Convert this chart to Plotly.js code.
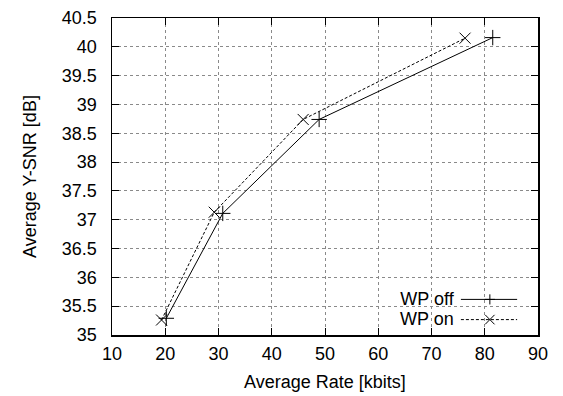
<!DOCTYPE html>
<html>
<head>
<meta charset="utf-8">
<script src="https://cdn.plot.ly/plotly-3.0.1.min.js"></script>
<style>html,body{margin:0;padding:0;background:#fff;}#chart{width:563px;height:396px;}</style>
</head>
<body>
<div id="chart"></div>
<script>
const rateOff = [20.2, 30.8, 48.9, 81.5];
const snrOff = [35.29, 37.11, 38.74, 40.16];
const rateOn = [19.3, 29.2, 45.9, 76.3];
const snrOn = [35.26, 37.13, 38.74, 40.15];
const seriesNames = ["WP off", "WP on"];
const xTicks = [10, 20, 30, 40, 50, 60, 70, 80, 90];
const yTicks = [35, 35.5, 36, 36.5, 37, 37.5, 38, 38.5, 39, 39.5, 40, 40.5];

const FONT = "Liberation Sans, Arial, Helvetica, sans-serif";
const FS = 18;

const traces = [
  {x: rateOff, y: snrOff, name: seriesNames[0], mode: "lines+markers",
   line: {color: "#000", width: 1},
   marker: {symbol: "cross-thin-open", size: 11, color: "#000", line: {color: "#000", width: 1}}},
  {x: rateOn, y: snrOn, name: seriesNames[1], mode: "lines+markers",
   line: {color: "#000", width: 1, dash: "3px,2px"},
   marker: {symbol: "x-thin-open", size: 11, color: "#000", line: {color: "#000", width: 1}}}
];

const axisCommon = {
  showline: true, linecolor: "#000", linewidth: 1.5, mirror: "ticks",
  ticks: "inside", ticklen: 7, tickcolor: "#000", tickwidth: 1,
  showgrid: true, gridcolor: "#8a8a8a", gridwidth: 1, griddash: "dot",
  zeroline: false, tickfont: {family: FONT, size: FS, color: "#000"}
};

const legendText = seriesNames.map(s => '<span style="font-size:' + FS + 'px">' + s + '</span>').join('<br>');

const yOff = 0.1123, yOn = 0.0486;

const layout = {
  width: 563, height: 396,
  margin: {l: 112, r: 25, t: 18, b: 61},
  paper_bgcolor: "#fff", plot_bgcolor: "#fff",
  showlegend: false,
  xaxis: Object.assign({}, axisCommon, {
    range: [10, 90], tickmode: "array", tickvals: xTicks, ticktext: xTicks.map(String),
    ticklabelstandoff: 2,
    title: {text: "Average Rate [kbits]", font: {family: FONT, size: FS, color: "#000"}, standoff: 12}
  }),
  yaxis: Object.assign({}, axisCommon, {
    range: [35, 40.5], tickmode: "array", tickvals: yTicks, ticktext: yTicks.map(String),
    ticklabelstandoff: 10,
    title: {text: "Average Y-SNR [dB]", font: {family: FONT, size: FS, color: "#000"}, standoff: 20}
  }),
  shapes: [
    {type: "rect", xref: "x", yref: "y", x0: 63.1, x1: 87.9, y0: 35, y1: 35.75,
     fillcolor: "#fff", line: {width: 0}, layer: "below"},
    {type: "line", xref: "paper", yref: "paper", x0: 0.819, x1: 0.951, y0: yOff, y1: yOff,
     line: {color: "#000", width: 1}, layer: "above"},
    {type: "line", xref: "paper", yref: "paper", x0: 0.875, x1: 0.899, y0: yOff, y1: yOff,
     line: {color: "#000", width: 1}, layer: "above"},
    {type: "line", xref: "paper", yref: "paper", x0: 0.887, x1: 0.887, y0: yOff - 0.016, y1: yOff + 0.016,
     line: {color: "#000", width: 1}, layer: "above"},
    {type: "line", xref: "paper", yref: "paper", x0: 0.819, x1: 0.951, y0: yOn, y1: yOn,
     line: {color: "#000", width: 1, dash: "3px,2px"}, layer: "above"},
    {type: "line", xref: "paper", yref: "paper", x0: 0.876, x1: 0.898, y0: yOn - 0.015, y1: yOn + 0.015,
     line: {color: "#000", width: 1}, layer: "above"},
    {type: "line", xref: "paper", yref: "paper", x0: 0.876, x1: 0.898, y0: yOn + 0.015, y1: yOn - 0.015,
     line: {color: "#000", width: 1}, layer: "above"}
  ],
  annotations: [
    {xref: "paper", yref: "paper", x: 0.808, y: (yOff + yOn) / 2, xanchor: "right", yanchor: "middle",
     align: "right", text: legendText, showarrow: false, borderpad: 0,
     font: {family: FONT, size: 15.6, color: "#000"}}
  ]
};

Plotly.newPlot("chart", traces, layout, {displayModeBar: false, staticPlot: true});
</script>
</body>
</html>
